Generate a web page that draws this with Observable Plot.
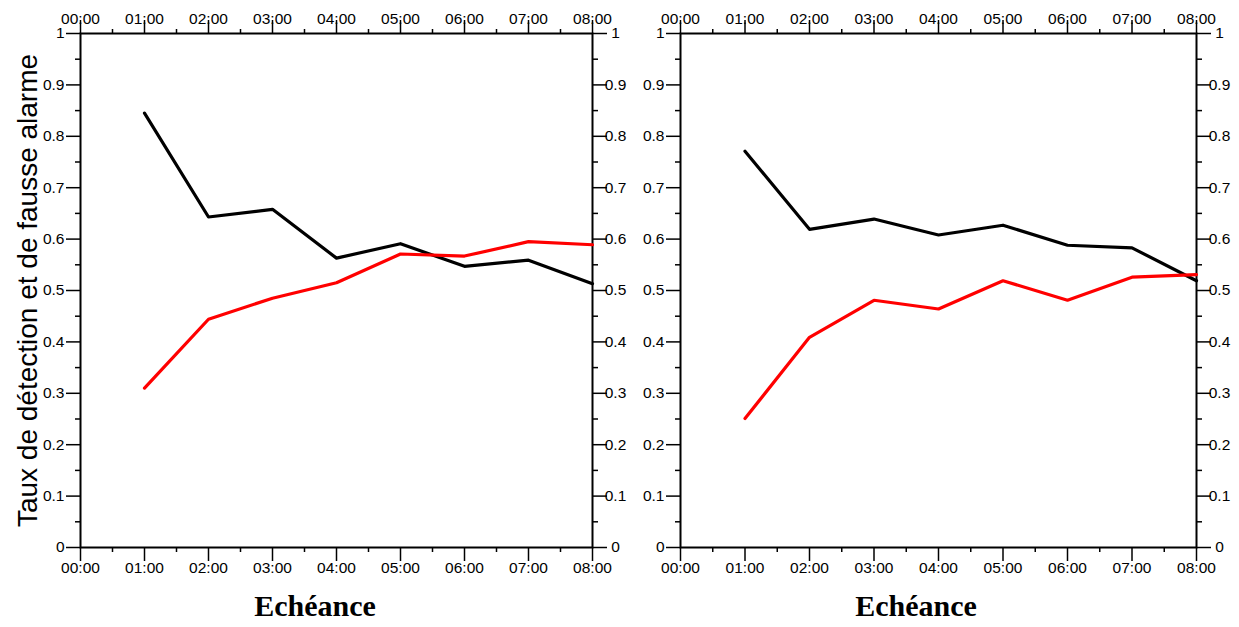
<!DOCTYPE html>
<html><head><meta charset="utf-8">
<script src="https://cdn.jsdelivr.net/npm/d3@7"></script>
<script src="https://cdn.jsdelivr.net/npm/@observablehq/plot@0.6"></script>
<style>
body{margin:0;background:#fff;width:1239px;height:627px;position:relative;overflow:hidden;font-family:"Liberation Sans",Arial,sans-serif}
.panel{position:absolute;top:0}
.panel svg{overflow:visible;background:transparent}
.xt{position:absolute;font-family:"Liberation Serif","Times New Roman",serif;font-weight:bold;font-size:30px;transform:translateX(-50%);top:589px;white-space:nowrap}
</style></head><body>
<div id="p1" class="panel" style="left:0"></div>
<div id="p2" class="panel" style="left:620px"></div>
<div id="t1" class="xt" style="left:315px"></div>
<div id="t2" class="xt" style="left:916px"></div>
<script>
// ---- data ----
const echeances = [1, 2, 3, 4, 5, 6, 7, 8];
const hourTicks = [0, 1, 2, 3, 4, 5, 6, 7, 8];
const hourLabels = ["00:00", "01:00", "02:00", "03:00", "04:00", "05:00", "06:00", "07:00", "08:00"];
const hourMinor = [0.5, 1.5, 2.5, 3.5, 4.5, 5.5, 6.5, 7.5];
const yTicks = [0, 0.1, 0.2, 0.3, 0.4, 0.5, 0.6, 0.7, 0.8, 0.9, 1];
const yTickLabels = ["0", "0.1", "0.2", "0.3", "0.4", "0.5", "0.6", "0.7", "0.8", "0.9", "1"];
const yMinor = [0.05, 0.15, 0.25, 0.35, 0.45, 0.55, 0.65, 0.75, 0.85, 0.95];
const leftBlack = [0.845, 0.643, 0.658, 0.563, 0.591, 0.547, 0.559, 0.513];
const leftRed   = [0.310, 0.444, 0.485, 0.515, 0.571, 0.567, 0.595, 0.589];
const rightBlack = [0.771, 0.619, 0.639, 0.608, 0.627, 0.588, 0.583, 0.519];
const rightRed   = [0.251, 0.409, 0.481, 0.464, 0.519, 0.481, 0.526, 0.531];
const yTitle = "Taux de détection et de fausse alarme";
const xTitle = "Echéance";

const hourFmt = d => hourLabels[hourTicks.indexOf(d)];
const yFmt = d => yTickLabels[yTicks.findIndex(t => Math.abs(t - d) < 1e-9)];

function panel(black, red, {width, marginLeft, marginRight, withTitle}) {
  const tb = echeances.map((h, i) => ({h, v: black[i]}));
  const tr = echeances.map((h, i) => ({h, v: red[i]}));
  const empty = () => "";
  const sw = 1.5;
  const marks = [
    Plot.axisX(hourTicks, {anchor: "bottom", tickSize: 14, tickPadding: 0, tickFormat: hourFmt, strokeWidth: sw}),
    Plot.axisX(hourTicks, {anchor: "top", tickSize: 14, tickPadding: -4, tickFormat: hourFmt, strokeWidth: sw}),
    Plot.axisX(hourMinor, {anchor: "bottom", tickSize: 5, tickFormat: empty, strokeWidth: sw}),
    Plot.axisX(hourMinor, {anchor: "top", tickSize: 5, tickFormat: empty, strokeWidth: sw}),
    Plot.axisY(yTicks, {anchor: "left", tickSize: 14, tickPadding: 2, tickFormat: yFmt, strokeWidth: sw}),
    Plot.axisY(yTicks, {anchor: "right", tickSize: 14, tickPadding: 9, textAnchor: "middle", tickFormat: yFmt, strokeWidth: sw}),
    Plot.axisY(yMinor, {anchor: "left", tickSize: 5, tickFormat: empty, strokeWidth: sw}),
    Plot.axisY(yMinor, {anchor: "right", tickSize: 5, tickFormat: empty, strokeWidth: sw}),
    Plot.frame({stroke: "black", strokeWidth: 2}),
    Plot.lineY(tb, {x: "h", y: "v", stroke: "black", strokeWidth: 3.2}),
    Plot.lineY(tr, {x: "h", y: "v", stroke: "#ff0000", strokeWidth: 3.2})
  ];
  if (withTitle) {
    marks.push(Plot.text([yTitle], {text: d => d, frameAnchor: "left", textAnchor: "middle", dx: -52, rotate: -90, fontSize: 28, fill: "black"}));
  }
  return Plot.plot({
    width, height: 575,
    marginTop: 33, marginBottom: 28, marginLeft, marginRight,
    x: {domain: [0, 8], label: null},
    y: {domain: [0, 1], label: null},
    style: {fontFamily: "'Liberation Sans', Arial, sans-serif", fontSize: "15.5px", color: "black", background: "transparent", overflow: "visible"},
    marks
  });
}

document.getElementById("p1").append(panel(leftBlack, leftRed, {width: 640, marginLeft: 80, marginRight: 48, withTitle: true}));
document.getElementById("p2").append(panel(rightBlack, rightRed, {width: 619, marginLeft: 60, marginRight: 43, withTitle: false}));
document.getElementById("t1").textContent = xTitle;
document.getElementById("t2").textContent = xTitle;
</script>
</body></html>
